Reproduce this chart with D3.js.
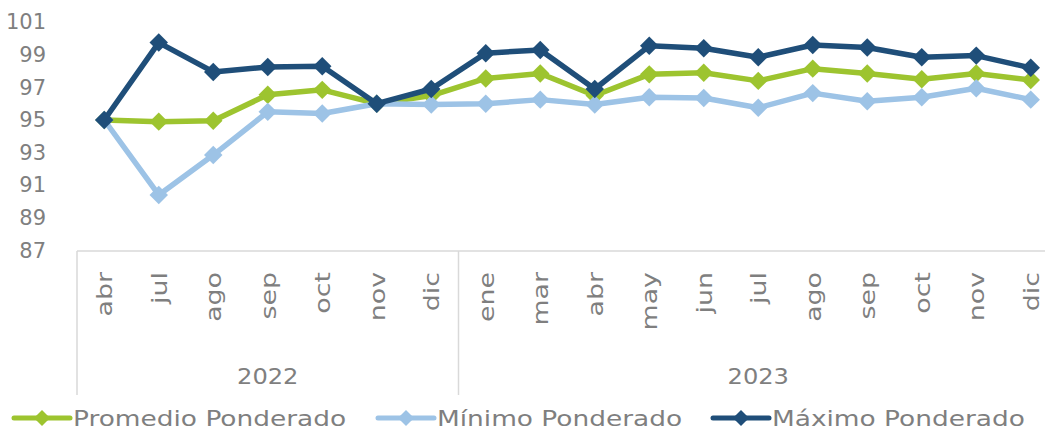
<!DOCTYPE html>
<html><head><meta charset="utf-8">
<script src="https://cdn.jsdelivr.net/npm/d3@7"></script>
<style>body{margin:0;background:#fff}svg{display:block;font-family:"DejaVu Sans",sans-serif}</style>
</head><body><svg id="c" width="1045" height="433"></svg>
<script>
const months = ["abr","jul","ago","sep","oct","nov","dic","ene","mar","abr","may","jun","jul","ago","sep","oct","nov","dic"];
const years = [{label:"2022", count:7},{label:"2023", count:11}];
const promedio = [95.0,94.9,94.95,96.55,96.85,96.0,96.5,97.55,97.85,96.5,97.8,97.9,97.4,98.15,97.85,97.5,97.85,97.45];
const minimo   = [95.0,90.4,92.85,95.5,95.4,96.0,95.95,96.0,96.25,95.95,96.4,96.35,95.75,96.65,96.15,96.4,96.95,96.25];
const maximo   = [95.0,99.75,97.95,98.25,98.3,96.0,96.9,99.1,99.3,96.9,99.55,99.4,98.85,99.6,99.45,98.85,98.95,98.2];
const yTicks = [87,89,91,93,95,97,99,101];
const seriesNames = ["Promedio Ponderado","Mínimo Ponderado","Máximo Ponderado"];
const colors = ["#9DC42F","#9DC3E6","#1F4E79"];

const svg = d3.select("#c");
const left = 77, band = 54.5;
const x = d3.scaleBand().domain(d3.range(months.length)).range([left, left + band*months.length]);
const y = d3.scaleLinear().domain([87,101]).range([250.4, 22.2]);
const textColor = "#7f7f7f";

// y axis labels
const yAxis = d3.axisLeft(y).tickValues(yTicks).tickSize(0).tickPadding(0);
const gy = svg.append("g").attr("transform","translate(46,0)").call(yAxis);
gy.select(".domain").remove();
gy.selectAll("text").attr("fill",textColor).style("font-size","21px").style("font-family","DejaVu Sans");

// category frame
const gridC = "#d9d9d9";
const axisY = 251;
svg.append("line").attr("x1",left).attr("x2",1045).attr("y1",axisY).attr("y2",axisY).attr("stroke",gridC).attr("stroke-width",1.5);
let idx = 0;
const bounds = [0];
years.forEach(yr => { idx += yr.count; bounds.push(idx); });
bounds.forEach(b => {
  const xx = left + b*band;
  if (xx <= 1045) svg.append("line").attr("x1",xx).attr("x2",xx).attr("y1",axisY).attr("y2",395).attr("stroke",gridC).attr("stroke-width",1.5);
});

// month labels
svg.append("g").selectAll("text").data(months).join("text")
  .attr("transform",(d,i)=>`translate(${x(i)+x.bandwidth()/2+8},272) rotate(-90) scale(1.22,1)`)
  .attr("text-anchor","end").attr("fill",textColor).style("font-size","22px").text(d=>d);

// year labels
idx = 0;
years.forEach(yr => {
  const cx = left + (idx + yr.count/2)*band;
  svg.append("text").attr("transform",`translate(${cx},384) scale(1.15,1)`).attr("text-anchor","middle").attr("fill",textColor).style("font-size","21px").text(yr.label);
  idx += yr.count;
});

// lines
const data = [promedio, minimo, maximo];
const line = d3.line().x((d,i)=>x(i)+x.bandwidth()/2).y(d=>y(d));
const diamond = d3.symbol().type(d3.symbolSquare).size(170);
data.forEach((s,k)=>{
  svg.append("path").datum(s).attr("d",line).attr("fill","none").attr("stroke",colors[k]).attr("stroke-width",5.5).attr("stroke-linejoin","round");
  svg.append("g").selectAll("path").data(s).join("path")
    .attr("d",diamond).attr("fill",colors[k])
    .attr("transform",(d,i)=>`translate(${x(i)+x.bandwidth()/2},${y(d)}) rotate(45)`);
});

// legend
const legX = [14, 378, 713];
seriesNames.forEach((n,k)=>{
  const g = svg.append("g").attr("transform",`translate(${legX[k]},418)`);
  g.append("line").attr("x1",0).attr("x2",56).attr("y1",0).attr("y2",0).attr("stroke",colors[k]).attr("stroke-width",5).attr("stroke-linecap","round");
  g.append("path").attr("d",d3.symbol().type(d3.symbolSquare).size(130)()).attr("fill",colors[k]).attr("transform","translate(28,0) rotate(45)");
  g.append("text").attr("transform","translate(59,8) scale(1.2,1)").attr("fill",textColor).style("font-size","22px").text(n);
});
</script></body></html>
